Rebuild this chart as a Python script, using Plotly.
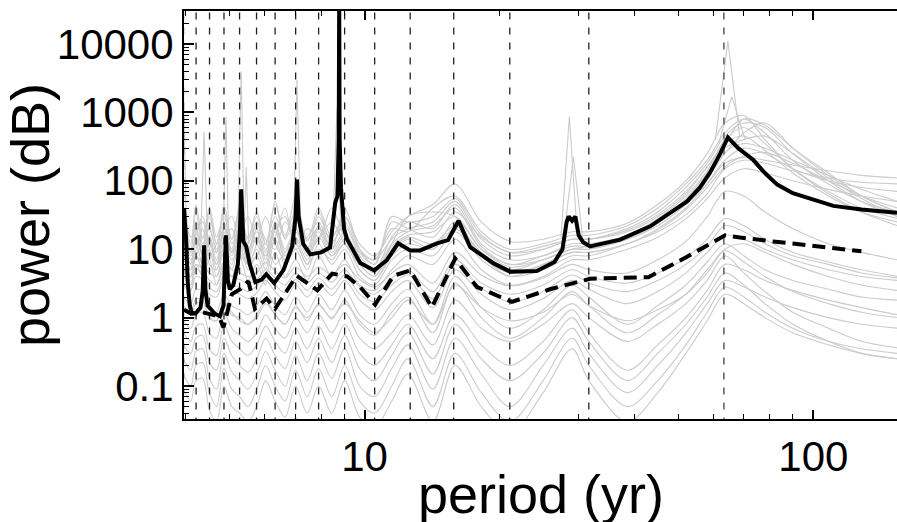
import plotly.graph_objects as go

# common period grid (yr) for the grey ensemble spectra
grid_period = [3.95, 4.1, 4.21, 4.36, 4.51, 4.68, 4.86, 5.06, 5.27, 5.5, 5.75, 6.02, 6.32, 6.65, 7.02, 7.45,
               7.9, 8.45, 9.03, 9.75, 10.53, 11.5, 12.5, 14.2, 15.9, 18.2, 21.1, 25, 29.0, 31.6, 38.5, 45,
               52, 58, 63.5, 70, 78, 90, 108, 128, 154]

# upper group of grey spectra
gray_upper = [
    [25, 9, 35, 12, 20, 9, 45, 14, 30, 10, 18, 9, 50, 14, 28, 10, 30, 13, 22, 8, 5, 15, 25, 20, 45, 12, 7, 8, 12, 12, 16, 28, 60, 140, 400, 600, 350, 150, 70, 40, 28],
    [12, 6, 18, 25, 10, 6, 14, 20, 9, 6, 12, 30, 12, 7, 20, 9, 14, 25, 12, 6, 4, 12, 30, 35, 30, 10, 6, 7, 10, 11, 15, 25, 50, 110, 250, 500, 700, 300, 120, 60, 35],
    [40, 15, 20, 10, 35, 12, 20, 10, 45, 12, 25, 10, 20, 30, 12, 20, 15, 40, 15, 9, 7, 20, 18, 40, 60, 18, 10, 12, 16, 16, 22, 40, 90, 200, 500, 800, 500, 200, 90, 50, 35],
    [8, 4, 12, 6, 15, 5, 10, 6, 18, 6, 10, 5, 20, 7, 12, 6, 18, 8, 12, 5, 3.5, 9, 14, 10, 25, 8, 4.5, 6, 9, 9, 12, 20, 40, 90, 200, 300, 250, 150, 100, 80, 70],
    [15, 7, 10, 20, 8, 12, 25, 9, 15, 30, 12, 8, 15, 40, 10, 15, 25, 10, 40, 10, 6, 25, 20, 15, 35, 15, 9, 11, 14, 14, 19, 32, 70, 160, 350, 450, 280, 130, 60, 35, 25],
    [30, 10, 25, 15, 40, 15, 30, 12, 20, 15, 35, 12, 30, 15, 60, 14, 20, 15, 30, 12, 8, 18, 30, 45, 90, 25, 13, 14, 18, 18, 24, 45, 100, 250, 700, 900, 400, 150, 65, 35, 22],
    [6, 3, 8, 5, 10, 4, 9, 5, 12, 5, 8, 4, 14, 6, 10, 5, 12, 6, 10, 4, 3, 7, 10, 8, 18, 7, 4, 5, 8, 8, 12, 18, 32, 65, 150, 200, 180, 140, 110, 95, 90],
    [18, 8, 14, 9, 22, 10, 16, 9, 25, 10, 15, 8, 25, 10, 20, 9, 22, 10, 18, 7, 5, 12, 18, 22, 40, 11, 6, 8, 11, 11, 15, 26, 55, 130, 300, 400, 450, 250, 110, 55, 30],
    [10, 5, 15, 8, 12, 6, 18, 8, 14, 7, 15, 6, 18, 8, 14, 7, 15, 8, 14, 6, 4, 10, 15, 12, 22, 9, 5, 7, 10, 10, 14, 22, 45, 90, 180, 220, 200, 170, 140, 120, 110],
    [35, 12, 45, 14, 30, 12, 35, 14, 40, 14, 30, 12, 45, 16, 35, 13, 40, 15, 30, 10, 7, 14, 20, 25, 50, 14, 8, 10, 14, 14, 20, 35, 80, 180, 450, 700, 600, 250, 100, 50, 30],
    [5, 2.5, 6, 4, 7, 3, 6, 4, 8, 3.5, 6, 3, 9, 4, 7, 3.5, 8, 4, 7, 3, 2.5, 5, 8, 6, 14, 5, 3, 4, 7, 7, 10, 15, 28, 55, 110, 150, 130, 100, 75, 60, 50],
    [22, 9, 16, 30, 12, 9, 20, 30, 12, 9, 25, 14, 10, 25, 15, 10, 35, 12, 25, 9, 6, 30, 25, 30, 55, 16, 9, 10, 14, 14, 18, 30, 65, 160, 350, 800, 650, 300, 130, 60, 35],
    [14, 6, 20, 8, 16, 7, 22, 9, 18, 8, 20, 7, 22, 9, 18, 8, 20, 9, 16, 7, 4.5, 11, 16, 18, 30, 10, 5.5, 7, 10, 10, 14, 24, 50, 110, 260, 350, 300, 200, 120, 75, 50],
    [10, 5, 8, 12, 6, 5, 12, 7, 10, 6, 8, 12, 6, 9, 12, 6, 10, 7, 12, 5, 3.5, 8, 12, 10, 20, 8, 4, 6, 9, 9, 12, 19, 38, 80, 160, 230, 260, 180, 100, 60, 40],
]

# middle grey spectra
gray_mid = [
    [3, 2.5, 4, 3.5, 2.2, 2.0, 3.5, 2.5, 2.2, 1.9, 2.3, 3.5, 2.4, 1.8, 3.0, 2.0, 3.2, 2.1, 3.5, 1.8, 1.3, 2.4, 3.5, 1.4, 5.0, 2.2, 1.3, 1.9, 3.5, 2.6, 1.6, 2.4, 4.5, 9, 16, 14, 10, 7, 5, 4, 3.5],
    [2.0, 1.6, 2.6, 2.4, 1.4, 1.2, 2.2, 1.5, 1.3, 1.1, 1.5, 2.4, 1.5, 1.1, 2.0, 1.2, 2.2, 1.3, 2.5, 1.1, 0.8, 1.6, 2.6, 0.8, 4.0, 1.4, 0.7, 1.3, 3.0, 2.0, 0.8, 1.5, 3.0, 6.5, 12, 8, 5, 3.5, 2.6, 2.0, 1.8],
    [5, 4, 6, 5, 3.5, 3, 5, 4, 3.6, 3.2, 3.6, 5, 3.8, 3.0, 4.5, 3.2, 4.5, 3.3, 5, 2.8, 2.2, 3.8, 5.0, 2.4, 7.0, 3.2, 2.2, 3.0, 5.0, 4.0, 3.2, 4.5, 7.5, 14, 28, 22, 14, 9, 6.5, 5, 4],
    [4, 3, 5, 4.5, 2.8, 2.4, 4.2, 3.0, 2.8, 2.4, 2.9, 4.2, 3.0, 2.3, 3.6, 2.5, 3.8, 2.6, 4.2, 2.2, 1.7, 3.0, 4.2, 1.9, 6.0, 2.7, 1.7, 2.4, 4.2, 3.2, 2.4, 3.5, 6, 11, 22, 18, 12, 8, 6, 4.5, 3.8],
    [1.5, 1.2, 1.9, 1.8, 1.0, 0.9, 1.6, 1.1, 1.0, 0.8, 1.1, 1.8, 1.1, 0.8, 1.5, 0.9, 1.6, 0.95, 1.8, 0.8, 0.55, 1.2, 2.0, 0.6, 3.2, 1.0, 0.5, 1.0, 2.4, 1.5, 0.6, 1.1, 2.2, 5, 10, 12, 9, 6, 4, 3, 2.5],
    [7, 5, 8, 6, 4.5, 4, 6.5, 5, 4.5, 4, 4.5, 6.5, 4.8, 3.8, 5.5, 4, 5.5, 4.2, 6, 3.6, 2.8, 4.5, 6, 3.2, 9, 4.2, 2.9, 3.8, 6, 5, 4.5, 7, 13, 30, 70, 60, 35, 20, 12, 9, 7],
]

# lower grey spectra
gray_lower = [
    [1.4, 1.1, 1.6, 1.7, 1.0, 0.9, 1.7, 1.2, 0.9, 0.8, 1.0, 1.6, 1.1, 0.8, 1.4, 1.0, 1.5, 1.0, 1.6, 0.9, 0.6, 1.0, 1.8, 0.8, 3.0, 1.4, 0.9, 1.2, 2.2, 1.5, 0.9, 1.3, 2.2, 4.5, 9.5, 6.5, 4.0, 2.4, 1.6, 1.2, 1.0],
    [0.9, 0.7, 1.1, 1.2, 0.6, 0.5, 1.2, 0.7, 0.55, 0.45, 0.6, 1.1, 0.7, 0.5, 1.0, 0.6, 1.1, 0.6, 1.2, 0.5, 0.35, 0.6, 1.1, 0.4, 1.8, 0.7, 0.45, 0.8, 1.6, 1.0, 0.45, 0.8, 1.6, 3.5, 8, 4.5, 2.4, 1.2, 0.7, 0.45, 0.36],
    [0.6, 0.45, 0.75, 0.8, 0.35, 0.28, 0.8, 0.45, 0.35, 0.28, 0.4, 0.75, 0.45, 0.3, 0.7, 0.35, 0.75, 0.35, 0.8, 0.3, 0.2, 0.4, 0.8, 0.25, 1.1, 0.4, 0.2, 0.45, 1.3, 0.6, 0.17, 0.4, 1.0, 2.5, 6, 5, 3.5, 2.5, 1.8, 1.4, 1.1],
    [0.4, 0.3, 0.5, 0.55, 0.22, 0.17, 0.5, 0.28, 0.2, 0.16, 0.25, 0.5, 0.28, 0.18, 0.45, 0.22, 0.5, 0.22, 0.55, 0.18, 0.12, 0.28, 0.6, 0.15, 0.8, 0.25, 0.12, 0.3, 1.0, 0.45, 0.12, 0.3, 0.8, 2.0, 4.5, 3.0, 1.6, 0.8, 0.45, 0.3, 0.25],
    [0.25, 0.17, 0.32, 0.35, 0.13, 0.09, 0.3, 0.16, 0.12, 0.09, 0.15, 0.32, 0.17, 0.1, 0.28, 0.12, 0.3, 0.13, 0.35, 0.1, 0.07, 0.18, 0.4, 0.09, 0.5, 0.15, 0.05, 0.2, 0.7, 0.3, 0.08, 0.2, 0.6, 1.6, 3.5, 2.8, 2.0, 1.4, 1.0, 0.8, 0.7],
    [0.15, 0.1, 0.2, 0.22, 0.08, 0.05, 0.18, 0.09, 0.07, 0.05, 0.09, 0.2, 0.1, 0.06, 0.17, 0.07, 0.18, 0.07, 0.2, 0.06, 0.04, 0.1, 0.25, 0.05, 0.3, 0.08, 0.03, 0.12, 0.5, 0.2, 0.05, 0.12, 0.4, 1.2, 2.8, 2.0, 1.2, 0.7, 0.45, 0.35, 0.3],
    [0.09, 0.06, 0.12, 0.13, 0.045, 0.03, 0.1, 0.05, 0.04, 0.03, 0.05, 0.12, 0.06, 0.035, 0.1, 0.04, 0.1, 0.04, 0.12, 0.035, 0.025, 0.06, 0.15, 0.03, 0.2, 0.05, 0.02, 0.08, 0.35, 0.12, 0.03, 0.08, 0.3, 0.9, 2.2, 1.6, 1.0, 0.6, 0.4, 0.3, 0.25],
]

# narrow grey resonance spikes
spike_period = [
    [3.95, 4.0, 4.06],
    [4.31, 4.39, 4.47],
    [4.84, 4.91, 4.98],
    [5.22, 5.31, 5.39],
    [5.38, 5.45, 5.52],
    [6.95, 7.07, 7.2],
    [8.5, 8.68, 8.85],
    [27.4, 28.6, 29.8],
    [27.8, 29.2, 30.6],
    [60.5, 64.5, 68.5],
    [61.5, 65.8, 70.5],
]
spike_power = [
    [2100, 40, 8],
    [12, 520, 12],
    [12, 870, 12],
    [20, 4000, 20],
    [12, 160, 12],
    [25, 3000, 25],
    [20, 1150, 20],
    [15, 870, 15],
    [15, 225, 15],
    [400, 11000, 450],
    [350, 1700, 400],
]

# ensemble mean spectrum (solid black)
mean_period = [3.96, 4.0, 4.04, 4.08, 4.12, 4.2, 4.31, 4.36, 4.39, 4.42, 4.47, 4.64, 4.76, 4.85, 4.91, 4.96,
               5.01, 5.1, 5.22, 5.28, 5.31, 5.34, 5.37, 5.45, 5.55, 5.71, 5.9, 6.04, 6.29, 6.6, 6.9, 7.02,
               7.07, 7.13, 7.3, 7.57, 8.0, 8.38, 8.55, 8.6, 8.7, 8.76, 8.78, 8.8, 8.86, 9.0, 9.14, 9.78,
               10.51, 11.21, 11.88, 12.64, 13.3, 14.5, 15.35, 16.2, 17.2, 19.4, 21.1, 24.2, 26.5, 27.6,
               28.2, 28.5, 29.0, 29.5, 30.0, 30.7, 31.8, 37.1, 43.3, 52.3, 55.9, 58.8, 62, 64.5, 68, 73.5,
               78, 83.1, 90, 99.8, 110.8, 128, 153.6]
mean_power = [40, 15, 3, 1.5, 1.15, 1.15, 1.4, 2.5, 11.4, 2.5, 1.5, 1.14, 1.05, 1.5, 16, 3.5,
              2.6, 3.0, 6, 20, 75, 20, 13, 11, 6, 3.3, 3.6, 4.3, 3.2, 5, 11, 30,
              104, 30, 12, 8.4, 9, 10.6, 30, 47, 60, 400, 60000, 400, 80, 20, 14, 6.3,
              4.9, 6.9, 12.2, 9.6, 9.6, 12.2, 13.6, 26, 10.7, 6.2, 4.7, 4.8, 6.5, 10,
              25, 30, 26, 30, 16, 12.6, 11, 13.8, 21.6, 50, 80, 130, 250, 430, 300, 201,
              130, 88, 66, 53, 43, 38, 34]

# dashed black spectrum
dash_period = [3.96, 4.1, 4.35, 4.64, 4.75, 4.85, 5.06, 5.28, 5.51, 5.7, 6.05, 6.32, 7.06, 7.85, 8.47, 9.15,
               9.78, 10.56, 11.6, 12.64, 14.13, 15.92, 17.8, 21.3, 25.9, 31.8, 42.9, 52.2, 63.6, 68.7, 81.3, 128]
dash_power = [1.3, 1.15, 1.2, 1.08, 1.0, 0.72, 2.2, 2.6, 3.4, 1.35, 1.9, 1.35, 4.1, 2.5, 4.4, 4.0,
              2.8, 1.55, 4.1, 4.9, 1.42, 7.3, 2.8, 1.7, 2.6, 3.7, 3.9, 7.7, 16, 14.8, 13, 9.3]

# harmonics of the ~63 yr cycle marked by dashed verticals
harmonic_period = [63.2 / n for n in range(1, 17)]

FONT = "Liberation Sans, Arial, sans-serif"
GREY = '#cbcbcb'

fig = go.Figure()

for vals in gray_lower + gray_mid + gray_upper:
    fig.add_trace(go.Scatter(x=grid_period, y=vals, mode='lines',
                             line=dict(color=GREY, width=1.1, shape='spline', smoothing=0.9),
                             hoverinfo='skip'))
for px, pw in zip(spike_period, spike_power):
    fig.add_trace(go.Scatter(x=px, y=pw, mode='lines',
                             line=dict(color=GREY, width=1.1), hoverinfo='skip'))

for i, h in enumerate(harmonic_period):
    fig.add_trace(go.Scatter(x=[h, h], y=[0.01, 1e5], mode='lines',
                             line=dict(color='#666666' if i == 0 else '#222222',
                                       width=1.6 if i == 0 else 1.3, dash='7px,8px'),
                             hoverinfo='skip'))

fig.add_trace(go.Scatter(x=dash_period, y=dash_power, mode='lines',
                         line=dict(color='black', width=4, dash='13px,7px')))
fig.add_trace(go.Scatter(x=mean_period, y=mean_power, mode='lines',
                         line=dict(color='black', width=4)))

minor_x = [4, 5, 6, 7, 8, 9, 20, 30, 40, 50, 60, 70, 80, 90]
minor_y = [m * d for d in [0.01, 0.1, 1, 10, 100, 1000, 10000] for m in range(2, 10)]

fig.update_layout(
    width=897, height=522,
    margin=dict(l=184, r=0, t=11, b=103),
    showlegend=False,
    paper_bgcolor='white', plot_bgcolor='white',
    font=dict(family=FONT, color='black'),
    annotations=[dict(text='period (yr)', xref='paper', yref='paper', x=0.5, y=-0.185,
                      xanchor='center', yanchor='middle', showarrow=False,
                      font=dict(size=54, family=FONT, color='black'))],
)
fig.update_xaxes(type='log', range=[0.5977, 2.1864], automargin=False,
                 tickvals=[10, 100], ticktext=['10', '100'],
                 tickfont=dict(size=42),
                 showline=True, linecolor='black', linewidth=2, mirror='ticks',
                 ticks='inside', ticklen=9, tickwidth=1.5, tickcolor='black',
                 minor=dict(tickvals=minor_x, ticks='inside', ticklen=5, tickcolor='black', tickwidth=1),
                 showgrid=False, zeroline=False)
fig.update_yaxes(type='log', range=[-1.482, 4.482], automargin=False,
                 tickvals=[0.1, 1, 10, 100, 1000, 10000],
                 ticktext=['0.1', '1', '10', '100', '1000', '10000'],
                 tickfont=dict(size=42),
                 title=dict(text='power (dB)', font=dict(size=54), standoff=4),
                 showline=True, linecolor='black', linewidth=2,
                 ticks='inside', ticklen=10, tickwidth=1.5, tickcolor='black',
                 minor=dict(tickvals=minor_y, ticks='inside', ticklen=5, tickcolor='black', tickwidth=1),
                 showgrid=False, zeroline=False)

# the page body has a default 8px margin; drop it so the figure fills the window
fig.write_html("out.html", config={'displayModeBar': False},
               post_script="document.body.style.margin='0';document.body.style.overflow='hidden';")
